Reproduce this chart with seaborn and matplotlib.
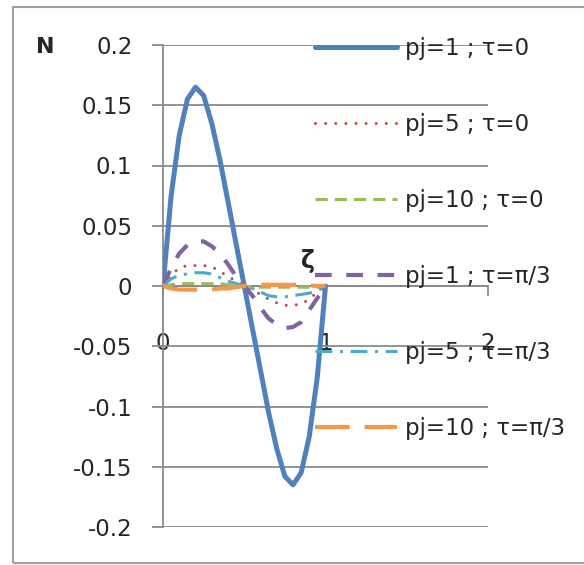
import numpy as np
import pandas as pd
import seaborn as sns
import matplotlib.pyplot as plt
from matplotlib.patches import Rectangle

sns.set_style("white")
plt.rcParams['font.family'] = ['DejaVu Sans']

# values
zeta = [0, 0.05, 0.1, 0.15, 0.2, 0.25, 0.3, 0.35, 0.4, 0.45, 0.5,
        0.55, 0.6, 0.65, 0.7, 0.75, 0.8, 0.85, 0.9, 0.95, 1.0]
n_pj1_t0 = [0, 0.075, 0.125, 0.155, 0.165, 0.158, 0.135, 0.105, 0.07, 0.035, 0,
            -0.035, -0.07, -0.105, -0.135, -0.158, -0.165, -0.155, -0.125, -0.075, 0]
n_pj5_t0 = [0, 0.009, 0.015, 0.017, 0.017, 0.017, 0.016, 0.012, 0.008, 0.004, 0,
            -0.003, -0.007, -0.011, -0.014, -0.016, -0.016, -0.015, -0.011, -0.005, 0]
n_pj10_t0 = [0, 0.001, 0.002, 0.002, 0.002, 0.002, 0.002, 0.002, 0.001, 0.001, 0,
             -0.001, -0.001, -0.001, -0.001, -0.001, -0.001, -0.001, -0.001, -0.001, 0]
n_pj1_t3 = [0, 0.015, 0.027, 0.034, 0.037, 0.037, 0.033, 0.027, 0.018, 0.008, 0,
            -0.008, -0.018, -0.027, -0.032, -0.035, -0.034, -0.03, -0.02, -0.01, 0]
n_pj5_t3 = [0, 0.006, 0.009, 0.010, 0.011, 0.011, 0.010, 0.007, 0.004, 0.002, 0,
            -0.002, -0.005, -0.008, -0.009, -0.009, -0.008, -0.007, -0.006, -0.004, 0]
n_pj10_t3 = [0, -0.002, -0.003, -0.003, -0.003, -0.003, -0.003, -0.002, -0.002, -0.001, 0,
             0.0005, 0.001, 0.001, 0.001, 0.001, 0.001, 0.001, 0.0005, 0, 0]

labels = ['pj=1 ; τ=0', 'pj=5 ; τ=0', 'pj=10 ; τ=0',
          'pj=1 ; τ=π/3', 'pj=5 ; τ=π/3', 'pj=10 ; τ=π/3']
series = [n_pj1_t0, n_pj5_t0, n_pj10_t0, n_pj1_t3, n_pj5_t3, n_pj10_t3]

yticks = [-0.2, -0.15, -0.1, -0.05, 0, 0.05, 0.1, 0.15, 0.2]
ytick_labels = ['-0.2', '-0.15', '-0.1', '-0.05', '0', '0.05', '0.1', '0.15', '0.2']
xticks = [0, 1, 2]

# excel-ish colours and dash patterns
colors = ['#4F81BD', '#C0504D', '#9BBB59', '#8064A2', '#4BACC6', '#F79646']
styles = ['-', (0, (0.01, 3.3)), (0, (4, 2.3)), (0, (4, 3.5)),
          (0, (5.5, 2.5, 1, 2.5)), (0, (8.3, 3.6))]
widths = [3.6, 2.2, 2.2, 3.0, 2.2, 3.0]
caps = ['butt', 'round', 'butt', 'butt', 'butt', 'butt']

fig = plt.figure(figsize=(5.84, 5.65), dpi=100)
ax = fig.add_axes([163 / 584, 1 - 527 / 565, 325 / 584, 482 / 565])

for i in range(len(series)):
    d = pd.DataFrame({'zeta': zeta, 'N': series[i]})
    sns.lineplot(data=d, x='zeta', y='N', ax=ax, color=colors[i], linestyle=styles[i],
                 linewidth=widths[i], dash_capstyle=caps[i], label=labels[i], zorder=3 + i)

ax.set_xlim(0, 2)
ax.set_ylim(-0.2, 0.2)
ax.set_xlabel('')
ax.set_ylabel('')

gridc = '#8a8a8a'
ax.set_yticks(yticks)
ax.set_yticklabels(ytick_labels)
ax.set_xticks(xticks)
ax.set_xticklabels([str(x) for x in xticks])
ax.yaxis.grid(True, color=gridc, linewidth=1.3)
ax.xaxis.grid(False)

for s in ['top', 'right']:
    ax.spines[s].set_visible(False)
ax.spines['bottom'].set_position(('data', 0))
ax.spines['bottom'].set_color(gridc)
ax.spines['bottom'].set_linewidth(1.3)
ax.spines['left'].set_color(gridc)
ax.spines['left'].set_linewidth(1.3)

fs = 16.5
ax.tick_params(axis='y', direction='out', length=8, width=1.3, color=gridc,
               pad=14, labelsize=fs, left=True)
ax.tick_params(axis='x', direction='out', length=7, width=1.3, color=gridc,
               pad=26, labelsize=fs, bottom=True)

ax.text(0.89, 0.021, 'ζ', fontsize=17, fontweight='bold', ha='center', va='center')
fig.text(45 / 584, 1 - 47 / 565, 'N', fontsize=16, fontweight='bold', ha='center', va='center')

leg = ax.legend(loc='upper left', bbox_to_anchor=(315 / 584, 1 - 37 / 565),
                bbox_transform=fig.transFigure, frameon=False, fontsize=fs,
                handlelength=3.58, handletextpad=0.35, labelspacing=2.31,
                borderpad=0, borderaxespad=0)
leg.set_zorder(20)

# outer chart border
fig.patches.append(Rectangle((13 / 584, 1 - 563 / 565), 1.0, (563 - 7) / 565,
                             transform=fig.transFigure, fill=False,
                             edgecolor='#a0a0a0', linewidth=1.5))

plt.savefig('out.png', dpi=100)
